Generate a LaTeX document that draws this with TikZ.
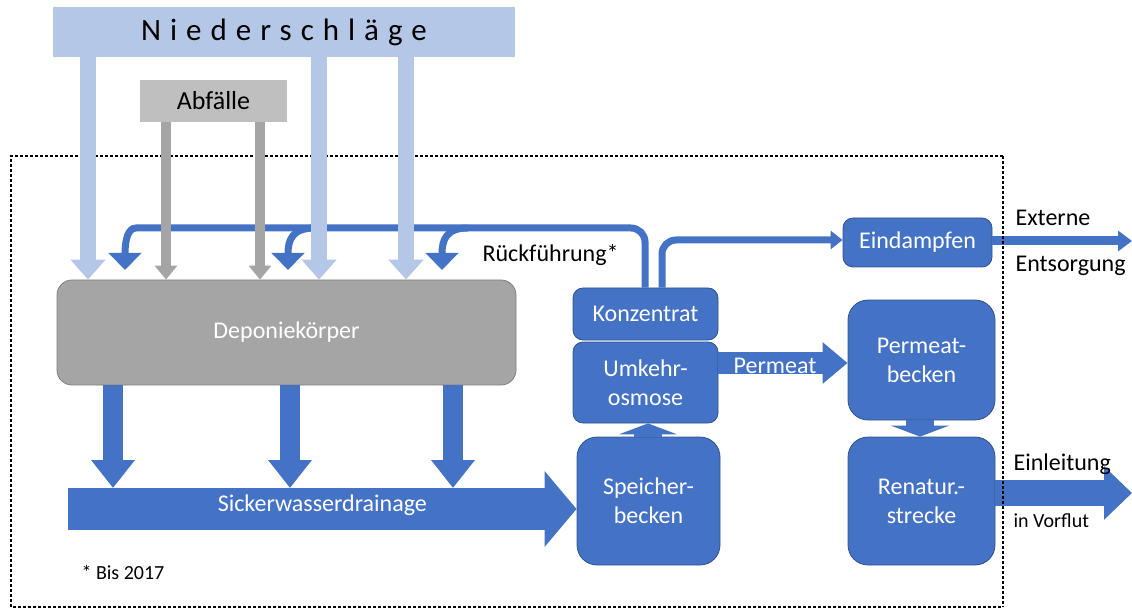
\documentclass[tikz,border=0pt]{standalone}
\usepackage{fontspec}
\setmainfont{Carlito}
\usetikzlibrary{arrows.meta}
\definecolor{bl}{HTML}{4472C4}
\definecolor{bld}{HTML}{2F528F}
\definecolor{lb}{HTML}{B4C7E7}
\definecolor{gbox}{HTML}{BFBFBF}
\definecolor{gdep}{HTML}{A5A5A5}
\definecolor{garr}{HTML}{A5A5A5}
\tikzset{
  lbl/.style={font=\fontsize{24}{29}\selectfont},
  bbox/.style={draw=bld, line width=0.8pt, fill=bl, text=white, rounded corners=#1, inner sep=0pt, align=center, lbl},
  bbox/.default=10pt,
  lbarrow/.style={draw=lb, line width=16pt, -{Triangle[width=34pt,length=20pt]}},
  garrow/.style={draw=garr, line width=10pt, -{Triangle[width=22pt,length=14pt]}},
  ret/.style={draw=bl, line width=7pt, -{Triangle[width=32pt,length=17pt]}},
  thin/.style={draw=bl, line width=7pt, -{Triangle[width=18pt,length=12pt]}},
  fat/.style={draw=bl, line width=#1},
  frame/.style={line width=2.6pt, dash pattern=on 2.6pt off 2.4pt},
}
\begin{document}
\begin{tikzpicture}[x=1pt,y=-1pt]
\useasboundingbox (0,0) rectangle (1132,612);
% frame (top, left, bottom)
\draw[frame] (1003,156) -- (11,156) -- (11,607) -- (1003,607);
% nodes
\node[fill=lb, minimum width=462, minimum height=50, inner sep=0pt] (nied) at (284,32)
  {\fontsize{31}{36}\selectfont\addfontfeature{LetterSpace=29}Niederschläge};
\node[fill=gbox, minimum width=147, minimum height=42, inner sep=0pt, font=\fontsize{26}{30}\selectfont] (abf) at (213.5,101) {Abfälle};
\node[draw=gray, line width=0.8pt, fill=gdep, rounded corners=15pt, minimum width=459, minimum height=105, inner sep=0pt, text=white, lbl] (dep) at (286.5,332.5) {Deponiekörper};
\node[bbox, minimum width=145, minimum height=52] (konz) at (645.5,314) {Konzentrat};
\node[bbox, minimum width=145, minimum height=81] (umk) at (645.5,382.5) {Umkehr-\\osmose};
\node[bbox=20pt, minimum width=143, minimum height=128] (spb) at (648.5,501) {Speicher-\\becken};
\node[bbox, minimum width=149, minimum height=49] (eind) at (917.5,242.5) {Eindampfen};
\node[bbox=20pt, minimum width=147, minimum height=120] (perm) at (921.5,360) {Permeat-\\becken};
\node[bbox=20pt, minimum width=147, minimum height=128] (ren) at (921.5,501) {Renatur.-\\strecke};
% Rueckfuehrung
\coordinate (r1) at (315,228);
\coordinate (r2) at (468,228);
\draw[ret, rounded corners=14pt] (konz.north -| 645,0) -- (645,228) -- (150,228) .. controls (128,228) and (125,240) .. (125,270);
\draw[ret] (r1) .. controls (292,228) and (288,240) .. (288,270);
\draw[ret] (r2) .. controls (446,228) and (442,240) .. (442,270);
\draw[thin, rounded corners=14pt] (konz.north -| 662,0) -- (662,240) -- (eind.west |- 0,240);
\node[lbl, anchor=west] (rf) at (479,255) {Rückführung*};
% gray arrows
\draw[garrow] (abf.south -| 166,0) -- (dep.north -| 166,0);
\draw[garrow] (abf.south -| 260,0) -- (dep.north -| 260,0);
% light blue arrows
\draw[lbarrow] (nied.south -| 88,0) -- (dep.north -| 88,0);
\draw[lbarrow] (nied.south -| 319,0) -- (dep.north -| 319,0);
\draw[lbarrow] (nied.south -| 406,0) -- (dep.north -| 406,0);
% drainage
\coordinate (d0) at (68,509);
\draw[fat=42pt, -{Triangle[width=74pt,length=32pt]}] (d0) -- (spb.west |- 0,509)
  node[midway, text=white, lbl, yshift=4pt] {Sickerwasserdrainage};
\foreach \x in {113,290,453}
  \draw[fat=20pt, -{Triangle[width=42pt,length=28pt]}] (dep.south -| \x,0) -- (\x,488);
% RO chain
\draw[fat=28pt, -{Triangle[width=58pt,length=11pt]}] (spb.north -| 648,0) -- (umk.south -| 648,0);
\draw[fat=22pt, -{Triangle[width=40pt,length=25pt]}] (umk.east |- 0,363) -- (perm.west |- 0,363)
  node[midway, text=white, lbl, yshift=-3pt, xshift=-8pt] {Permeat};
\draw[fat=28pt, -{Triangle[width=58pt,length=11pt]}] (perm.south -| 920,0) -- (ren.north -| 920,0);
% outputs
\coordinate (o1) at (1132,241);
\coordinate (o2) at (1132,493);
\draw[fat=9pt, -{Triangle[width=20pt,length=14pt]}] (eind.east |- 0,241) -- (o1);
\draw[fat=26pt, -{Triangle[width=52pt,length=28pt]}] (ren.east |- 0,493) -- (o2);
% frame (right edge, over the outputs)
\draw[frame] (1003,156) -- (1003,607);
\node[lbl, anchor=west] (ext) at (1012,218) {Externe};
\node[lbl, anchor=west] (ent) at (1012,266) {Entsorgung};
\node[lbl, anchor=west] (einl) at (1010,464) {Einleitung};
\node[font=\fontsize{20}{24}\selectfont, anchor=west] (vorf) at (1010,521) {in Vorflut};
\node[font=\fontsize{20}{24}\selectfont, anchor=west] (bis) at (78,572) {* Bis 2017};
\end{tikzpicture}
\end{document}
